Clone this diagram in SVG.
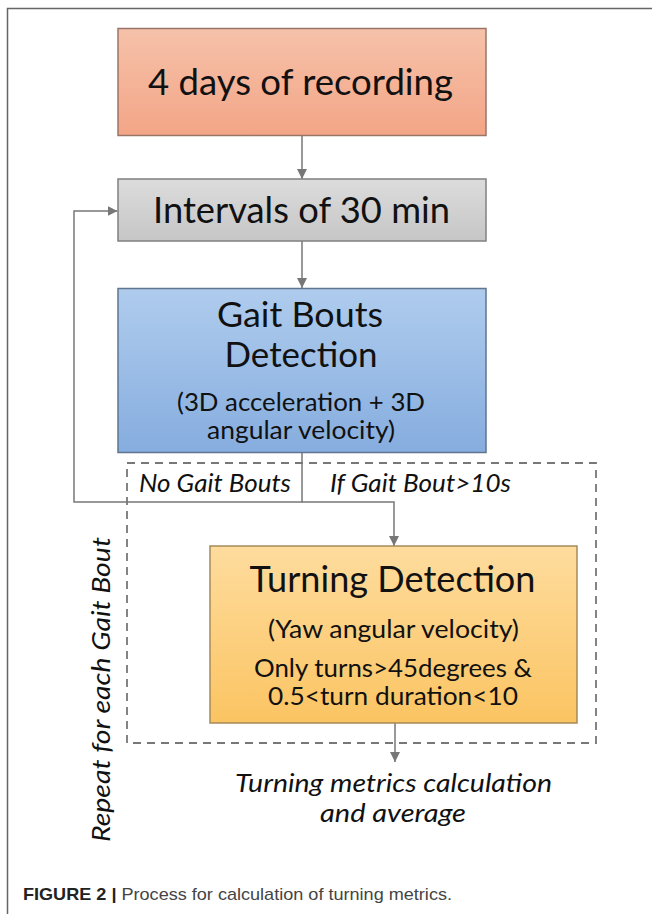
<svg xmlns="http://www.w3.org/2000/svg" width="652" height="914" viewBox="0 0 652 914">
<defs>
<linearGradient id="gRed" x1="0" y1="0" x2="0" y2="1"><stop offset="0" stop-color="#f6c2aa"/><stop offset="1" stop-color="#f3a586"/></linearGradient>
<linearGradient id="gGray" x1="0" y1="0" x2="0" y2="1"><stop offset="0" stop-color="#dcdcdc"/><stop offset="1" stop-color="#c6c6c6"/></linearGradient>
<linearGradient id="gBlue" x1="0" y1="0" x2="0" y2="1"><stop offset="0" stop-color="#afcced"/><stop offset="1" stop-color="#86addf"/></linearGradient>
<linearGradient id="gOrange" x1="0" y1="0" x2="0" y2="1"><stop offset="0" stop-color="#fedc9e"/><stop offset="1" stop-color="#fbc462"/></linearGradient>
<marker id="arr" viewBox="0 0 10 10" refX="10" refY="5" markerWidth="10" markerHeight="10" markerUnits="userSpaceOnUse" orient="auto"><path d="M0,0 L10,5 L0,10 z" fill="#777"/></marker>
</defs>
<style>
.box{stroke-width:1.5}
.t{font-family:Lato,"Open Sans",sans-serif;fill:#111;text-anchor:middle}
.big{font-size:37px}
.mid{font-size:34px}
.sm{font-size:25px}
.it{font-style:italic;font-size:26px}
.conn{fill:none;stroke:#777;stroke-width:1.5}
</style>
<rect width="652" height="914" fill="#fff"/>
<path d="M652,8.5 H7.5 V914" fill="none" stroke="#666" stroke-width="1.5"/>
<g id="connectors">
<line class="conn" x1="302" y1="136" x2="302" y2="179" marker-end="url(#arr)"/>
<line class="conn" x1="302" y1="241" x2="302" y2="288" marker-end="url(#arr)"/>
<path class="conn" d="M302,453 V502 H74 V211 H117.5" marker-end="url(#arr)"/>
<path class="conn" d="M302,502 H394 V546" marker-end="url(#arr)"/>
<line class="conn" x1="395" y1="723" x2="395" y2="762" marker-end="url(#arr)"/>
</g>
<g id="repeat-region">
<rect x="127" y="463" width="469" height="280" fill="none" stroke="#777" stroke-width="1.8" stroke-dasharray="8,6"/>
<text class="t it" transform="translate(110,689.5) rotate(-90)" font-size="28" textLength="305" lengthAdjust="spacingAndGlyphs">Repeat for each Gait Bout</text>
</g>
<g id="n1">
<rect class="box" x="118" y="28.5" width="368" height="107" fill="url(#gRed)" stroke="#9a7468"/>
<text class="t big" x="300.5" y="95" textLength="305" lengthAdjust="spacingAndGlyphs">4 days of recording</text>
</g>
<g id="n2">
<rect class="box" x="118" y="179" width="368" height="62" fill="url(#gGray)" stroke="#808080"/>
<text class="t big" x="301.5" y="223" textLength="297" lengthAdjust="spacingAndGlyphs">Intervals of 30 min</text>
</g>
<g id="n3">
<rect class="box" x="118" y="288.5" width="368" height="164" fill="url(#gBlue)" stroke="#5f7590"/>
<text class="t mid" x="300" y="327" textLength="166" lengthAdjust="spacingAndGlyphs">Gait Bouts</text>
<text class="t mid" x="301" y="367" textLength="153" lengthAdjust="spacingAndGlyphs">Detection</text>
<text class="t sm" x="301" y="411" textLength="248" lengthAdjust="spacingAndGlyphs">(3D acceleration + 3D</text>
<text class="t sm" x="301" y="439" textLength="188" lengthAdjust="spacingAndGlyphs">angular velocity)</text>
</g>
<g id="labels">
<text class="t it" x="215" y="492" textLength="152" lengthAdjust="spacingAndGlyphs">No Gait Bouts</text>
<text class="t it" x="420.5" y="492" textLength="181" lengthAdjust="spacingAndGlyphs">If Gait Bout&gt;10s</text>
</g>
<g id="n4">
<rect class="box" x="210" y="546" width="367" height="177" fill="url(#gOrange)" stroke="#a58a58"/>
<text class="t big" x="392.5" y="592" textLength="286" lengthAdjust="spacingAndGlyphs">Turning Detection</text>
<text class="t sm" x="393.5" y="638" textLength="251" lengthAdjust="spacingAndGlyphs">(Yaw angular velocity)</text>
<text class="t sm" x="393" y="677" textLength="278" lengthAdjust="spacingAndGlyphs">Only turns&gt;45degrees &amp;</text>
<text class="t sm" x="393" y="705" textLength="250" lengthAdjust="spacingAndGlyphs">0.5&lt;turn duration&lt;10</text>
</g>
<g id="result">
<text class="t it" x="393.5" y="792" font-size="28" textLength="317" lengthAdjust="spacingAndGlyphs">Turning metrics calculation</text>
<text class="t it" x="393" y="822" font-size="28" textLength="146" lengthAdjust="spacingAndGlyphs">and average</text>
</g>
<g id="caption">
<text x="23" y="900" font-family="'Liberation Sans',Arial,sans-serif" font-size="17" fill="#444" textLength="429" lengthAdjust="spacingAndGlyphs"><tspan font-weight="bold" fill="#222">FIGURE 2 |</tspan> Process for calculation of turning metrics.</text>
</g>
</svg>
